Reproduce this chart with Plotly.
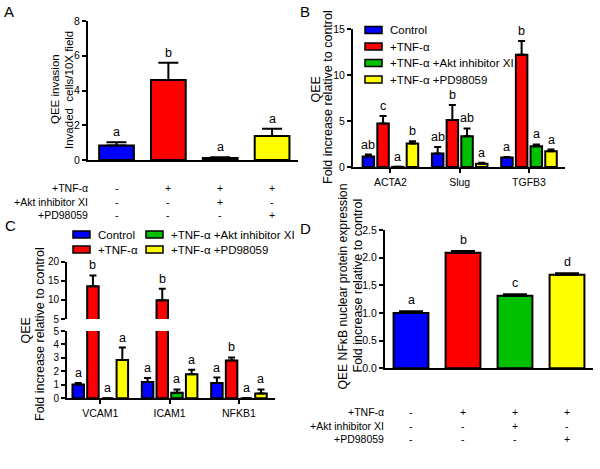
import numpy as np
import plotly.graph_objects as go

# ---------------- data ----------------
colors = ["#0000FF", "#FF0000", "#00C000", "#FFFF00"]
series_names = ["Control", "+TNF-\u03b1", "+TNF-\u03b1 +Akt inhibitor XI", "+TNF-\u03b1 +PD98059"]

# Panel A: invasion
a_means = [0.83, 4.6, 0.12, 1.38]
a_sem = [0.19, 1.0, 0.04, 0.42]
a_letters = ["a", "b", "a", "a"]

# condition table (A and D)
cond_labels = ["+TNF-\u03b1", "+Akt inhibitor XI", "+PD98059"]
cond_table = [["-", "+", "+", "+"],
              ["-", "-", "+", "-"],
              ["-", "-", "-", "+"]]

# Panel B: EMT genes
b_genes = ["ACTA2", "Slug", "TGFB3"]
b_means = [[1.15, 1.46, 1.02],
           [4.74, 5.1, 12.2],
           [0.02, 3.35, 2.26],
           [2.55, 0.36, 1.71]]
b_sem = [[0.2, 0.72, 0.08],
         [0.79, 1.63, 1.5],
         [0.0, 0.84, 0.19],
         [0.25, 0.1, 0.19]]
b_letters = [["ab", "ab", "a"],
             ["c", "b", "b"],
             ["a", "ab", "a"],
             ["b", "a", "a"]]

# Panel C: inflammatory genes
c_genes = ["VCAM1", "ICAM1", "NFKB1"]
c_means = [[1.02, 1.21, 1.14],
           [13.57, 9.9, 2.8],
           [0.0, 0.41, 0.0],
           [2.85, 1.78, 0.36]]
c_sem = [[0.12, 0.29, 0.4],
         [2.83, 3.0, 0.24],
         [0.0, 0.25, 0.0],
         [0.92, 0.34, 0.3]]
c_letters = [["a", "a", "a"],
             ["b", "b", "b"],
             ["a", "a", "a"],
             ["a", "a", "a"]]

# Panel D: NFkB nuclear protein
d_means = [1.0, 2.09, 1.31, 1.69]
d_sem = [0.03, 0.03, 0.03, 0.03]
d_letters = ["a", "b", "c", "d"]

# ---------------- styling ----------------
FONT = "Liberation Sans, Arial, sans-serif"
W, H = 600, 469
BLACK = "#000000"
TICK_FS = 10.5
CAT_FS = 10.5
LETTER_FS = 12.5
LEG_FS = 11.5
COND_FS = 10.5


def px(x):
    return x / W


def py(y):
    return 1 - y / H


fig = go.Figure()
annotations = []
shapes = []

single_width = 0.67
grp_width = 0.166
grp_slot = 0.212


def err_arr(sem):
    return [s if s > 0 else None for s in sem]


# ---- Panel A ----
xa = np.arange(len(a_means))
fig.add_trace(go.Bar(
    x=xa, y=a_means, width=single_width, xaxis="x", yaxis="y",
    marker=dict(color=colors, line=dict(color=BLACK, width=2)),
    error_y=dict(type="data", symmetric=False, array=a_sem, arrayminus=[0] * 4,
                 color=BLACK, thickness=2, width=10),
    showlegend=False))
for i, (m, s, t) in enumerate(zip(a_means, a_sem, a_letters)):
    annotations.append(dict(x=xa[i], y=m + s, xref="x", yref="y", text=t, showarrow=False,
                            yanchor="bottom", yshift=1, font=dict(size=LETTER_FS)))

# ---- Panel B ----
for k in range(4):
    xb = np.arange(len(b_genes)) + (k - 1.5) * grp_slot
    fig.add_trace(go.Bar(
        x=xb, y=b_means[k], width=grp_width, xaxis="x2", yaxis="y2", name=series_names[k],
        marker=dict(color=colors[k], line=dict(color=BLACK, width=2)),
        error_y=dict(type="data", symmetric=False, array=err_arr(b_sem[k]), arrayminus=[0] * 3,
                     color=BLACK, thickness=2, width=3.5),
        showlegend=False))
    for i in range(len(b_genes)):
        annotations.append(dict(x=xb[i], y=b_means[k][i] + b_sem[k][i], xref="x2", yref="y2",
                                text=b_letters[k][i], showarrow=False, yanchor="bottom", yshift=1,
                                font=dict(size=LETTER_FS)))

# ---- Panel C (broken axis: lower y3 0-5, upper y4 5-20) ----
C_BREAK = 5
for k in range(4):
    xc = np.arange(len(c_genes)) + (k - 1.5) * grp_slot
    for xax, yax in (("x3", "y3"), ("x4", "y4")):
        fig.add_trace(go.Bar(
            x=xc, y=c_means[k], width=grp_width, xaxis=xax, yaxis=yax, name=series_names[k],
            marker=dict(color=colors[k], line=dict(color=BLACK, width=2)),
            error_y=dict(type="data", symmetric=False, array=err_arr(c_sem[k]), arrayminus=[0] * 3,
                         color=BLACK, thickness=2, width=3.5),
            showlegend=False))
    for i in range(len(c_genes)):
        top = c_means[k][i] + c_sem[k][i]
        yref = "y4" if top > C_BREAK else "y3"
        annotations.append(dict(x=xc[i], y=top, xref="x3", yref=yref,
                                text=c_letters[k][i], showarrow=False, yanchor="bottom", yshift=1,
                                font=dict(size=LETTER_FS)))

# ---- Panel D ----
xd = np.arange(len(d_means))
fig.add_trace(go.Bar(
    x=xd, y=d_means, width=single_width, xaxis="x5", yaxis="y5",
    marker=dict(color=colors, line=dict(color=BLACK, width=2)),
    error_y=dict(type="data", symmetric=False, array=d_sem, arrayminus=[0] * 4,
                 color=BLACK, thickness=2, width=12),
    showlegend=False))
for i, (m, s, t) in enumerate(zip(d_means, d_sem, d_letters)):
    annotations.append(dict(x=xd[i], y=m + s, xref="x5", yref="y5", text=t, showarrow=False,
                            yanchor="bottom", yshift=2, font=dict(size=LETTER_FS)))


# ---- condition tables for A and D ----
def add_table(xref, label_x, row_ys, positions):
    for r, lab in enumerate(cond_labels):
        annotations.append(dict(x=label_x, y=row_ys[r], xref="paper", yref="paper", text=lab,
                                showarrow=False, xanchor="right", yanchor="middle",
                                font=dict(size=COND_FS)))
        for i, sym in enumerate(cond_table[r]):
            annotations.append(dict(x=positions[i], y=row_ys[r], xref=xref, yref="paper", text=sym,
                                    showarrow=False, xanchor="center", yanchor="middle",
                                    font=dict(size=COND_FS)))


add_table("x", px(90), [py(188), py(202), py(215)], xa)
add_table("x5", px(386), [py(412), py(426), py(439)], xd)


# ---- y axis titles (one annotation per line) ----
def ytitle(x, y, text, fs):
    annotations.append(dict(x=px(x), y=py(y), xref="paper", yref="paper", text=text, textangle=-90,
                            showarrow=False, xanchor="center", yanchor="middle",
                            font=dict(size=fs)))


ytitle(55, 89, "QEE invasion", 11.5)
ytitle(69, 90, "Invaded  cells/10X field", 11.5)
ytitle(315.5, 90, "QEE", 12.5)
ytitle(328.5, 97.5, "Fold increase relative to control", 12.5)
ytitle(25.5, 331, "QEE", 12.5)
ytitle(39.5, 333.5, "Fold increase relative to control", 12.5)
ytitle(342, 286.5, "QEE NF\u03baB nuclear protein expression", 12.2)
ytitle(357, 285.5, "Fold increase relative to control", 12.5)

# ---- panel letters ----
for lab, x, y in (("A", 2, 1), ("B", 298, 1), ("C", 3, 215), ("D", 298, 218)):
    annotations.append(dict(x=px(x), y=py(y), xref="paper", yref="paper", text=lab,
                            showarrow=False, xanchor="left", yanchor="top", font=dict(size=15)))


# ---- manual legends ----
def legend_item(bx0, by, tx, k):
    shapes.append(dict(type="rect", xref="paper", yref="paper",
                       x0=px(bx0), x1=px(bx0 + 17), y0=py(by + 3.5), y1=py(by - 3.5),
                       fillcolor=colors[k], line=dict(color=BLACK, width=1.5)))
    annotations.append(dict(x=px(tx), y=py(by), xref="paper", yref="paper", text=series_names[k],
                            showarrow=False, xanchor="left", yanchor="middle", font=dict(size=LEG_FS)))


for k, by in enumerate([30, 46.5, 63, 79.5]):
    legend_item(365, by, 388, k)
legend_item(73, 234.5, 96, 0)
legend_item(73, 249.5, 96, 1)
legend_item(146, 234.5, 169, 2)
legend_item(146, 249.5, 169, 3)

# ---------------- axes ----------------
axis_common = dict(showgrid=False, zeroline=False, showline=True, linecolor=BLACK, linewidth=2,
                   ticks="outside", ticklen=4, tickwidth=2, tickcolor=BLACK,
                   tickfont=dict(size=TICK_FS, color=BLACK), fixedrange=True)

layout = dict(
    width=W, height=H, margin=dict(l=0, r=0, t=0, b=0, autoexpand=False),
    paper_bgcolor="white", plot_bgcolor="white",
    font=dict(family=FONT, color=BLACK),
    barmode="overlay", showlegend=False,
    annotations=annotations, shapes=shapes,
)

# A
layout["xaxis"] = dict(axis_common, domain=[px(88), px(298)], range=[-0.55, 3.5], anchor="y",
                       showticklabels=False, ticks="")
layout["yaxis"] = dict(axis_common, domain=[py(160), py(21)], range=[0, 8], anchor="x",
                       tickvals=[0, 2, 4, 6, 8])
# B
layout["xaxis2"] = dict(axis_common, domain=[px(353), px(565)], range=[-0.54, 2.52], anchor="y2",
                        tickvals=list(range(len(b_genes))), ticktext=b_genes,
                        tickfont=dict(size=CAT_FS, color=BLACK))
layout["yaxis2"] = dict(axis_common, domain=[py(167), py(29)], range=[0, 15], anchor="x2",
                        tickvals=[0, 5, 10, 15])
# C lower
layout["xaxis3"] = dict(axis_common, domain=[px(67), px(275)], range=[-0.48, 2.52], anchor="y3",
                        tickvals=list(range(len(c_genes))), ticktext=c_genes,
                        tickfont=dict(size=CAT_FS, color=BLACK))
layout["yaxis3"] = dict(axis_common, domain=[py(398.3), py(331)], range=[0, C_BREAK], anchor="x3",
                        tickvals=[0, 1, 2, 3, 4, 5], tickfont=dict(size=10, color=BLACK))
# C upper
layout["xaxis4"] = dict(domain=[px(67), px(275)], range=[-0.48, 2.52], anchor="y4", visible=False,
                        matches="x3", fixedrange=True)
layout["yaxis4"] = dict(axis_common, domain=[py(319), py(261.7)], range=[C_BREAK, 20], anchor="x4",
                        tickvals=[5, 10, 15, 20], tickfont=dict(size=10, color=BLACK))
# D
layout["xaxis5"] = dict(axis_common, domain=[px(385), px(593)], range=[-0.5, 3.5], anchor="y5",
                        showticklabels=False, ticks="")
layout["yaxis5"] = dict(axis_common, domain=[py(368.3), py(230)], range=[0, 2.5], anchor="x5",
                        tickvals=[0, 0.5, 1.0, 1.5, 2.0, 2.5], tickformat=".1f")

fig.update_layout(**layout)
fig.write_html("out.html", config={"displayModeBar": False},
               post_script="document.body.style.margin='0';")
